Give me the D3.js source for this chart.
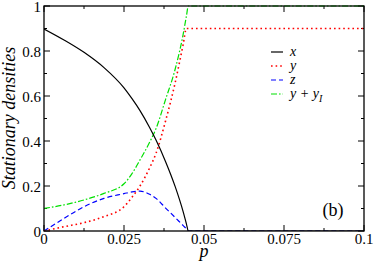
<!DOCTYPE html>
<html><head><meta charset="utf-8">
<script src="https://cdn.jsdelivr.net/npm/d3@7"></script>
<style>
html,body{margin:0;padding:0;background:#fff;}
</style></head>
<body><svg id="c" width="374" height="262"></svg>
<script>
const pValues = [0, 0.00625, 0.0125, 0.01875, 0.025, 0.0275, 0.03, 0.033, 0.035, 0.038, 0.041, 0.0435, 0.0445, 0.0451, 0.1];
const xDensity = [0.898, 0.849, 0.794, 0.726, 0.636, 0.588, 0.535, 0.460, 0.404, 0.308, 0.197, 0.085, 0.032, 0, 0];
const yDensity = [0, 0.019, 0.037, 0.064, 0.108, 0.150, 0.200, 0.280, 0.345, 0.490, 0.660, 0.830, 0.9, 0.9, 0.9];
const zDensity = [0, 0.056, 0.108, 0.145, 0.166, 0.174, 0.177, 0.163, 0.145, 0.102, 0.060, 0.024, 0.010, 0, 0];
const yyIDensity = [0.100, 0.116, 0.138, 0.167, 0.210, 0.255, 0.316, 0.394, 0.455, 0.585, 0.720, 0.875, 0.955, 1.0, 1.0];
const xTicks = [0, 0.025, 0.05, 0.075, 0.1];
const xTickLabels = ["0", "0.025", "0.05", "0.075", "0.1"];
const yTicks = [0, 0.2, 0.4, 0.6, 0.8, 1];
const yTickLabels = ["0", "0.2", "0.4", "0.6", "0.8", "1"];
const seriesNames = ["x", "y", "z", "y + y_I"];
const seriesColors = ["#000000", "#ff0000", "#0000ff", "#00e000"];
const FONT = "'Liberation Serif', Tinos, 'Times New Roman', Times, 'DejaVu Serif', 'Noto Serif', FreeSerif, serif";

const svg = d3.select("#c");
const L = 44, R = 364, T = 6, B = 231;
const xs = d3.scaleLinear().domain([0, 0.1]).range([L, R]);
const ys = d3.scaleLinear().domain([0, 1]).range([B, T]);

// ticks (inward, mirrored)
const g = svg.append("g");
const minorX = d3.range(0, 0.1001, 0.0125);
const minorY = d3.range(0, 1.001, 0.1);
minorX.forEach(v => {
  const major = xTicks.some(t => Math.abs(t - v) < 1e-9);
  const len = major ? 6 : 3;
  g.append("line").attr("x1", xs(v)).attr("x2", xs(v)).attr("y1", B).attr("y2", B - len).attr("stroke", "#000");
  g.append("line").attr("x1", xs(v)).attr("x2", xs(v)).attr("y1", T).attr("y2", T + len).attr("stroke", "#000");
});
minorY.forEach(v => {
  const major = yTicks.some(t => Math.abs(t - v) < 1e-9);
  const len = major ? 6 : 3;
  g.append("line").attr("x1", L).attr("x2", L + len).attr("y1", ys(v)).attr("y2", ys(v)).attr("stroke", "#000");
  g.append("line").attr("x1", R).attr("x2", R - len).attr("y1", ys(v)).attr("y2", ys(v)).attr("stroke", "#000");
});

// tick labels
xTicks.forEach((v, i) => {
  svg.append("text").attr("x", xs(v)).attr("y", 244).attr("text-anchor", "middle")
    .attr("font-family", FONT).attr("font-size", 15).text(xTickLabels[i]);
});
yTicks.forEach((v, i) => {
  svg.append("text").attr("x", 41).attr("y", ys(v) + 5.5).attr("text-anchor", "end")
    .attr("font-family", FONT).attr("font-size", 15).text(yTickLabels[i]);
});

// data lines
const series = [xDensity, yDensity, zDensity, yyIDensity];
const dashes = [null, "1.6,3", "5,3", "6,2,1.6,2"];
const line = d3.line().x(d => xs(d[0])).y(d => ys(d[1])).curve(d3.curveMonotoneX);
svg.append("clipPath").attr("id", "clp").append("rect")
  .attr("x", L).attr("y", T - 1).attr("width", R - L).attr("height", B - T + 1);
[3, 2, 1, 0].forEach(k => {
  const pts = pValues.map((p, i) => [p, series[k][i]]);
  svg.append("path").attr("d", line(pts)).attr("fill", "none")
    .attr("stroke", seriesColors[k]).attr("stroke-width", k === 1 ? 1.6 : 1.2)
    .attr("stroke-dasharray", dashes[k]).attr("clip-path", "url(#clp)");
});

// frame
svg.append("rect").attr("x", L).attr("y", T).attr("width", R - L).attr("height", B - T)
  .attr("fill", "none").attr("stroke", "#000").attr("stroke-width", 1.3);

// legend
const legY = [52, 66, 80, 94];
seriesNames.forEach((n, k) => {
  svg.append("line").attr("x1", 271).attr("x2", 283).attr("y1", legY[k]).attr("y2", legY[k])
    .attr("stroke", seriesColors[k]).attr("stroke-width", k === 1 ? 1.6 : 1.2)
    .attr("stroke-dasharray", dashes[k]);
  const t = svg.append("text").attr("x", 290).attr("y", legY[k] + 4).attr("font-size", 14)
    .attr("font-family", FONT).attr("font-style", "italic");
  if (n === "y + y_I") {
    t.append("tspan").text("y + y");
    t.append("tspan").attr("dy", 4).attr("font-size", 10).text("I");
  } else {
    t.text(n);
  }
});

// labels
svg.append("text").attr("x", 333).attr("y", 216).attr("text-anchor", "middle")
  .attr("font-family", FONT).attr("font-size", 18).text("(b)");
svg.append("text").attr("x", 204).attr("y", 257).attr("text-anchor", "middle")
  .attr("font-family", FONT).attr("font-size", 18).attr("font-style", "italic").text("p");
svg.append("text").attr("transform", "translate(15,118) rotate(-90)").attr("text-anchor", "middle")
  .attr("font-family", FONT).attr("font-size", 18).attr("font-style", "italic").text("Stationary densities");
</script></body></html>
